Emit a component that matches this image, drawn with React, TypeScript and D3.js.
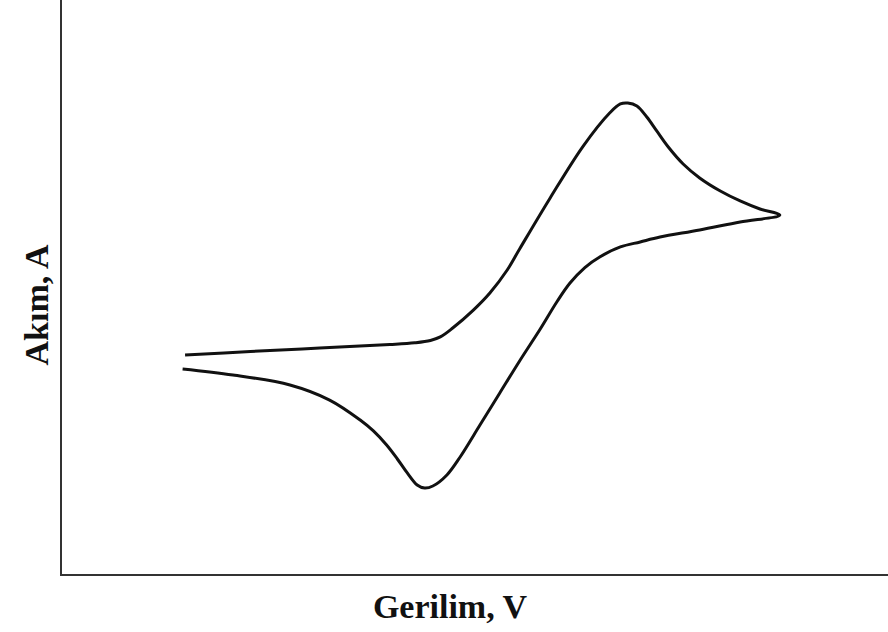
import React, { useRef, useEffect } from 'react';
import * as d3 from 'd3';

// forward scan (anodic), potential in V and current in uA
const forwardE = [-0.151, -0.072, 0.012, 0.097, 0.127, 0.146, 0.158, 0.173, 0.198, 0.218, 0.239, 0.254, 0.291, 0.331, 0.363, 0.376, 0.385, 0.396, 0.408, 0.42, 0.434, 0.452, 0.472, 0.497, 0.521, 0.545, 0.569];
const forwardI = [-4.7, -4.45, -4.21, -3.97, -3.85, -3.69, -3.44, -2.82, -1.57, -0.38, 1.22, 2.68, 6.23, 9.84, 12.14, 12.77, 12.83, 12.63, 11.86, 10.89, 9.77, 8.59, 7.62, 6.71, 6.02, 5.46, 5.04];

// reverse scan (cathodic)
const reverseE = [0.521, 0.472, 0.424, 0.4, 0.376, 0.351, 0.333, 0.315, 0.299, 0.279, 0.254, 0.23, 0.206, 0.182, 0.166, 0.149, 0.139, 0.13, 0.118, 0.106, 0.093, 0.077, 0.061, 0.024, -0.024, -0.093, -0.154];
const reverseI = [4.56, 4.0, 3.51, 3.17, 2.82, 2.12, 1.39, 0.31, -1.01, -2.89, -5.11, -7.34, -9.57, -11.79, -13.04, -13.81, -13.95, -13.74, -12.9, -11.93, -10.96, -9.98, -9.22, -7.83, -6.78, -6.09, -5.67];

const xLabel = 'Gerilim, V';
const yLabel = 'Akım, A';

function App() {
    const chartRef = useRef<HTMLDivElement>(null);

    useEffect(() => {
        const width = 888;
        const height = 632;

        d3.select(chartRef.current).selectAll('*').remove();

        const svg = d3.select(chartRef.current)
            .append('svg')
            .attr('width', width)
            .attr('height', height)
            .style('position', 'absolute')
            .style('left', 0)
            .style('top', 0)
            .style('background', '#fff');

        const x = d3.scaleLinear().domain([-0.3, 0.7]).range([62, 888]);
        const y = d3.scaleLinear().domain([-20, 20]).range([575, 0]);

        // axes: plain lines, no ticks
        svg.append('line')
            .attr('x1', x(-0.3) - 1).attr('x2', x(-0.3) - 1)
            .attr('y1', y(20)).attr('y2', y(-20))
            .attr('stroke', '#333').attr('stroke-width', 2);
        svg.append('line')
            .attr('x1', x(-0.3) - 2).attr('x2', x(0.7))
            .attr('y1', y(-20)).attr('y2', y(-20))
            .attr('stroke', '#333').attr('stroke-width', 2);

        const points: [number, number][] = [
            ...forwardE.map((e, i) => [e, forwardI[i]] as [number, number]),
            ...reverseE.map((e, i) => [e, reverseI[i]] as [number, number]),
        ];

        const line = d3.line<[number, number]>()
            .x(d => x(d[0]))
            .y(d => y(d[1]))
            .curve(d3.curveCatmullRom.alpha(0.5));

        svg.append('path')
            .datum(points)
            .attr('fill', 'none')
            .attr('stroke', '#111')
            .attr('stroke-width', 3)
            .attr('stroke-linejoin', 'round')
            .attr('d', line);

        svg.append('text')
            .attr('x', 450)
            .attr('y', 618)
            .attr('text-anchor', 'middle')
            .style('font-family', '"Liberation Serif", "Times New Roman", serif')
            .style('font-weight', 'bold')
            .style('font-size', '34px')
            .attr('fill', '#111')
            .text(xLabel);

        svg.append('text')
            .attr('transform', 'translate(48, 305) rotate(-90)')
            .attr('text-anchor', 'middle')
            .style('font-family', '"Liberation Serif", "Times New Roman", serif')
            .style('font-weight', 'bold')
            .style('font-size', '34px')
            .attr('fill', '#111')
            .text(yLabel);
    }, []);

    return (
        <div ref={chartRef}></div>
    );
}

export default App;
